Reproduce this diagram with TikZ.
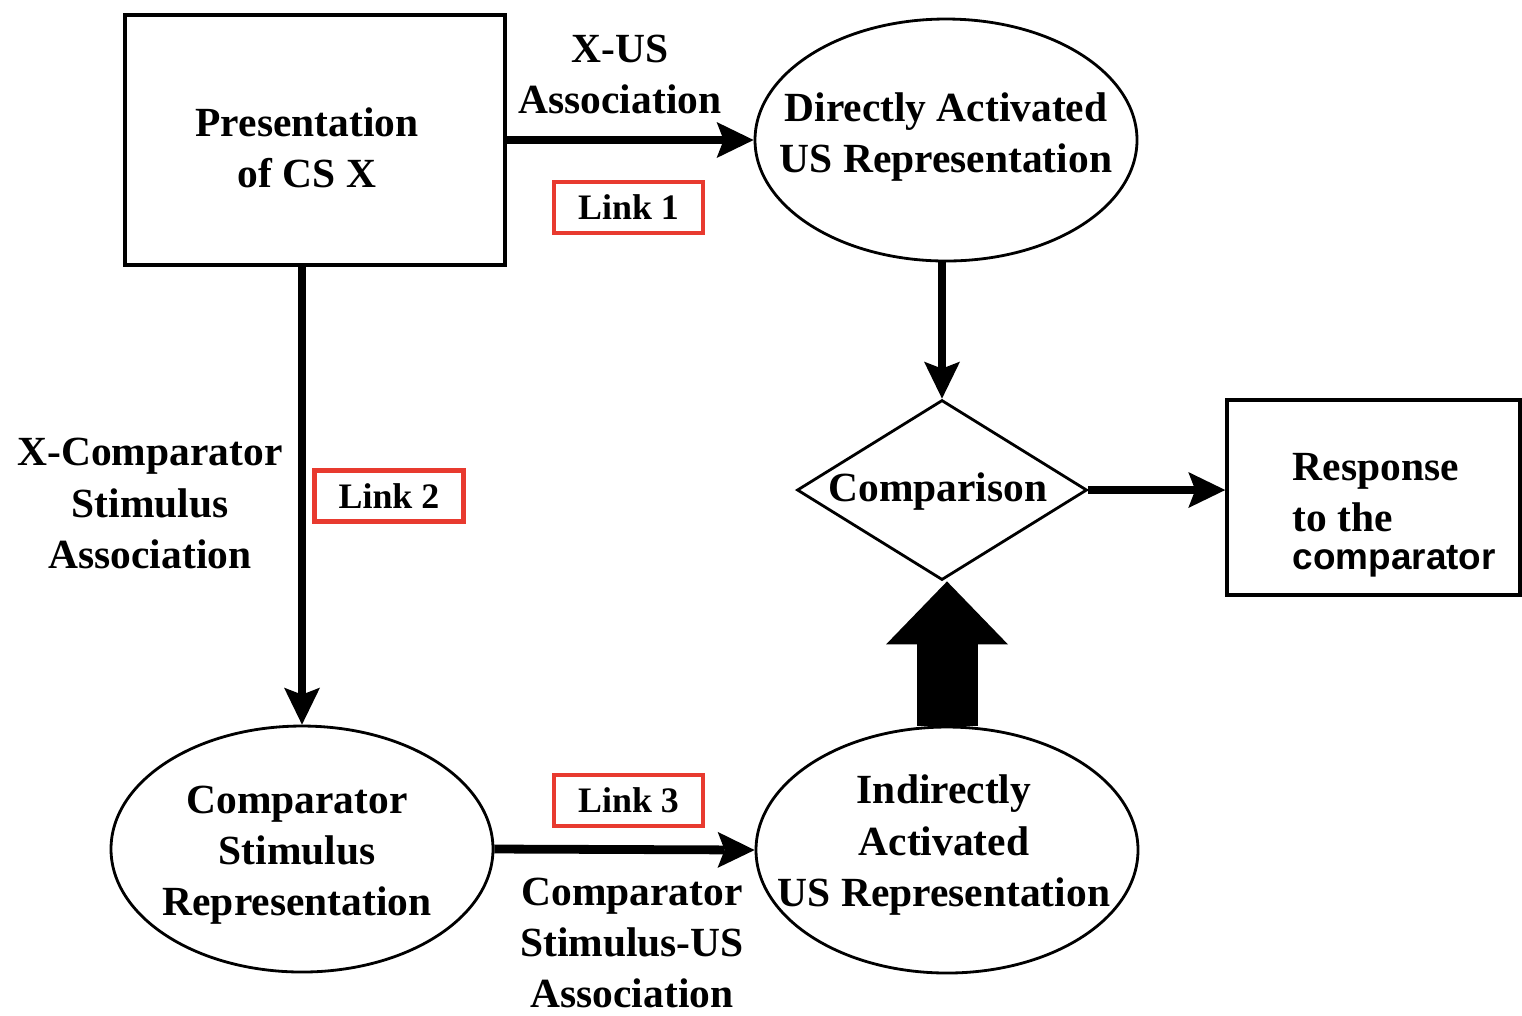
\documentclass[tikz,border=0pt]{standalone}
\usepackage{fontspec}
\setmainfont{Liberation Serif}
\newfontfamily\arialfont{Liberation Sans}
\usetikzlibrary{shapes.geometric,arrows.meta}
\definecolor{linkred}{HTML}{E83A2F}

\begin{document}
\begin{tikzpicture}[
    box/.style={draw, line width=1pt, inner sep=0pt},
    oval/.style={draw, ellipse, line width=0.8pt, inner sep=0pt,
                 minimum width=3.82cm, minimum height=2.46cm},
    txt/.style={align=center, inner sep=0pt, font=\bfseries\fontsize{11.8}{14.6}\selectfont},
    link/.style={draw=linkred, line width=1.3pt, inner sep=0pt,
                 minimum width=1.49cm, minimum height=0.51cm,
                 font=\bfseries\fontsize{10.2}{12}\selectfont},
    arrow/.style={-{Stealth[length=0.37cm, width=0.36cm, inset=0.07cm, line width=0pt]},
                  line width=2.5pt},
    bigarrow/.style={-{Triangle[length=0.63cm, width=1.22cm, line width=0pt]},
                     line width=0.61cm}
  ]
  \useasboundingbox (0,0) rectangle (15.22,-10.15);

  % shapes
  \node[box, minimum width=3.80cm, minimum height=2.50cm] (pres) at (3.15,-1.40) {};
  \node[oval, minimum height=2.42cm] (dir) at (9.46,-1.40) {};
  \node[draw, diamond, line width=0.8pt, inner sep=0pt,
        minimum width=2.90cm, minimum height=1.80cm] (cmp) at (9.42,-4.90) {};
  \node[box, minimum width=2.93cm, minimum height=1.95cm] (resp) at (13.735,-4.975) {};
  \node[oval] (csr) at (3.02,-8.49) {};
  \node[oval] (ind) at (9.47,-8.50) {};

  % texts
  \node[txt] (prestxt) at (3.07,-1.48) {Presentation\\of CS X};
  \node[txt] (dirtxt)  at (9.46,-1.37) {Directly Activated\\US Representation};
  \node[txt] (cmptxt)  at (9.38,-4.92) {Comparison};
  \node[txt, anchor=west, align=left] (resptxt) at (12.92,-5.15)
       {Response\\to the\\[-4pt]{\arialfont\fontsize{10.5}{12}\selectfont comparator}};
  \node[txt] (csrtxt)  at (2.97,-8.55) {Comparator\\Stimulus\\Representation};
  \node[txt] (indtxt)  at (9.44,-8.45) {Indirectly\\Activated\\US Representation};

  % association labels
  \node[txt] (xus)  at (6.20,-0.745) {X-US\\Association};
  \node[txt] (xcsa) at (1.50,-5.035) {X-Comparator\\Stimulus\\Association};
  \node[txt] (csua) at (6.32,-9.43)  {Comparator\\Stimulus-US\\Association};

  \node[link] (link1) at (6.285,-2.075) {Link 1};
  \node[link] (link2) at (3.89,-4.96)   {Link 2};
  \node[link] (link3) at (6.285,-8.005) {Link 3};

  % connectors
  \draw[arrow] (pres.east) -- (dir.west);
  \draw[arrow] (dir.south -| cmp.north) -- (cmp.north);
  \draw[arrow] (cmp.east) -- (cmp.east -| resp.west);
  \draw[arrow] (pres.south -| csr.north) -- (csr.north);
  \draw[arrow] (csr.east) -- (ind.west);
  \draw[bigarrow] (ind.north) -- (ind.north |- cmp.south);
\end{tikzpicture}
\end{document}
